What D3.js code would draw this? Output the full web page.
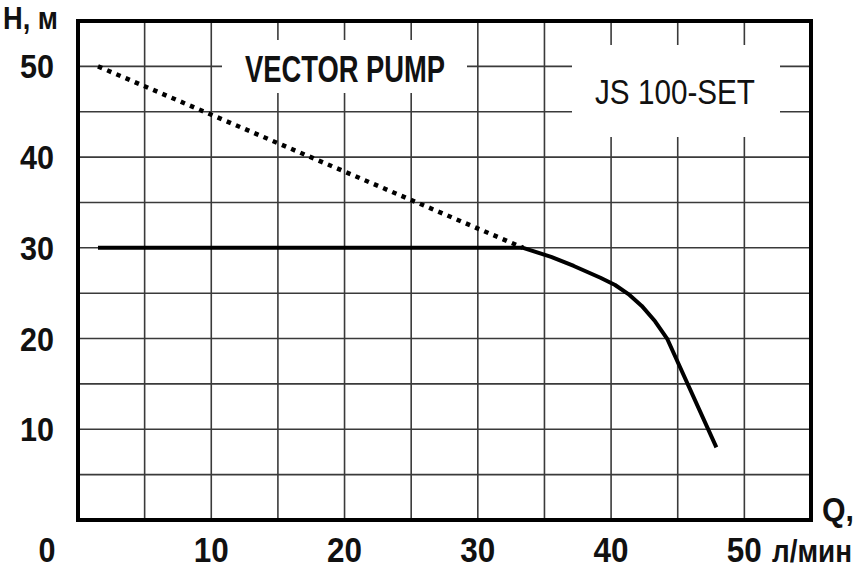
<!DOCTYPE html>
<html><head><meta charset="utf-8">
<script src="https://cdn.jsdelivr.net/npm/d3@7"></script>
<style>body{margin:0;background:#fff}svg{display:block}</style>
</head><body>
<script>
// ---- data ----
const xTicks = [0, 10, 20, 30, 40, 50];
const yTicks = [10, 20, 30, 40, 50];
const gridX = [5,10,15,20,25,30,35,40,45,50];
const gridY = [5,10,15,20,25,30,35,40,45,50];
const curveQ = [1.5, 33.4, 35.5, 37.2, 39.2, 40.3, 41.3, 42.3, 43.3, 44.2, 47.9];
const curveH = [30, 30, 29.0, 28.0, 26.7, 25.9, 24.9, 23.6, 21.9, 20.0, 8.0];
const dottedQ = [1.5, 33.4];
const dottedH = [50, 30];
const yUnit = "H, м";
const xUnitTop = "Q,";
const xUnitBottom = "л/мин";
const title = "VECTOR PUMP";
const model = "JS 100-SET";

const W = 864, H = 576;
const svg = d3.select("body").append("svg").attr("width", W).attr("height", H);
const x = d3.scaleLinear().domain([0, 55]).range([78, 811]);
const y = d3.scaleLinear().domain([0, 55]).range([520, 21]);
const font = "'Liberation Sans Narrow','Arial Narrow','Liberation Sans',Arial,sans-serif";

// grid
const g = svg.append("g");
g.selectAll("line.vx").data(gridX).join("line")
  .attr("x1", d => x(d)).attr("x2", d => x(d)).attr("y1", y(0)).attr("y2", y(55))
  .attr("stroke", "#3a3a3a").attr("stroke-width", 1.6);
g.selectAll("line.hy").data(gridY).join("line")
  .attr("y1", d => y(d)).attr("y2", d => y(d)).attr("x1", x(0)).attr("x2", x(55))
  .attr("stroke", "#3a3a3a").attr("stroke-width", 1.6);

// white label boxes
svg.append("rect").attr("x", 222).attr("y", 40).attr("width", 245).attr("height", 53).attr("fill", "#fff");
svg.append("rect").attr("x", 572).attr("y", 45).attr("width", 208).attr("height", 92).attr("fill", "#fff");

svg.append("text").attr("x", 245).attr("y", 82).attr("font-family", font).attr("font-weight", "bold")
  .attr("font-size", 37).attr("textLength", 200).attr("lengthAdjust", "spacingAndGlyphs").attr("fill", "#111").text(title);
svg.append("text").attr("x", 595).attr("y", 104).attr("font-family", font)
  .attr("font-size", 35).attr("textLength", 160).attr("lengthAdjust", "spacingAndGlyphs").attr("fill", "#111").text(model);

// frame
svg.append("rect").attr("x", x(0)).attr("y", y(55)).attr("width", x(55) - x(0)).attr("height", y(0) - y(55))
  .attr("fill", "none").attr("stroke", "#000").attr("stroke-width", 4);

// dotted line
const line = d3.line().x(d => x(d[0])).y(d => y(d[1]));
svg.append("path").datum(dottedQ.map((q, i) => [q, dottedH[i]])).attr("d", line)
  .attr("fill", "none").attr("stroke", "#000").attr("stroke-width", 4.5).attr("stroke-dasharray", "4.5,5.5");
// solid curve
svg.append("path").datum(curveQ.map((q, i) => [q, curveH[i]])).attr("d", line)
  .attr("fill", "none").attr("stroke", "#000").attr("stroke-width", 4).attr("stroke-linejoin", "round");

// y tick labels
svg.selectAll("text.yt").data(yTicks).join("text")
  .attr("x", 54).attr("y", d => y(d) + 12).attr("text-anchor", "end")
  .attr("font-family", font).attr("font-weight", "bold").attr("font-size", 33).attr("fill", "#111")
  .attr("textLength", 34).attr("lengthAdjust", "spacingAndGlyphs").text(d => d);
// x tick labels
svg.selectAll("text.xt").data(xTicks).join("text")
  .attr("x", d => d === 0 ? 47 : x(d)).attr("y", 562).attr("text-anchor", "middle")
  .attr("font-family", font).attr("font-weight", "bold").attr("font-size", 35).attr("fill", "#111")
  .attr("textLength", d => d === 0 ? 17 : 35).attr("lengthAdjust", "spacingAndGlyphs").text(d => d);

// unit labels
svg.append("text").attr("x", 3).attr("y", 29).attr("font-family", font).attr("font-weight", "bold")
  .attr("font-size", 32).attr("fill", "#111").attr("textLength", 55).attr("lengthAdjust", "spacingAndGlyphs").text(yUnit);
svg.append("text").attr("x", 822).attr("y", 521).attr("font-family", font).attr("font-weight", "bold")
  .attr("font-size", 33).attr("fill", "#111").attr("textLength", 32).attr("lengthAdjust", "spacingAndGlyphs").text(xUnitTop);
svg.append("text").attr("x", 772).attr("y", 562).attr("font-family", font).attr("font-weight", "bold")
  .attr("font-size", 32).attr("fill", "#111").attr("textLength", 80).attr("lengthAdjust", "spacingAndGlyphs").text(xUnitBottom);
</script>
</body></html>
